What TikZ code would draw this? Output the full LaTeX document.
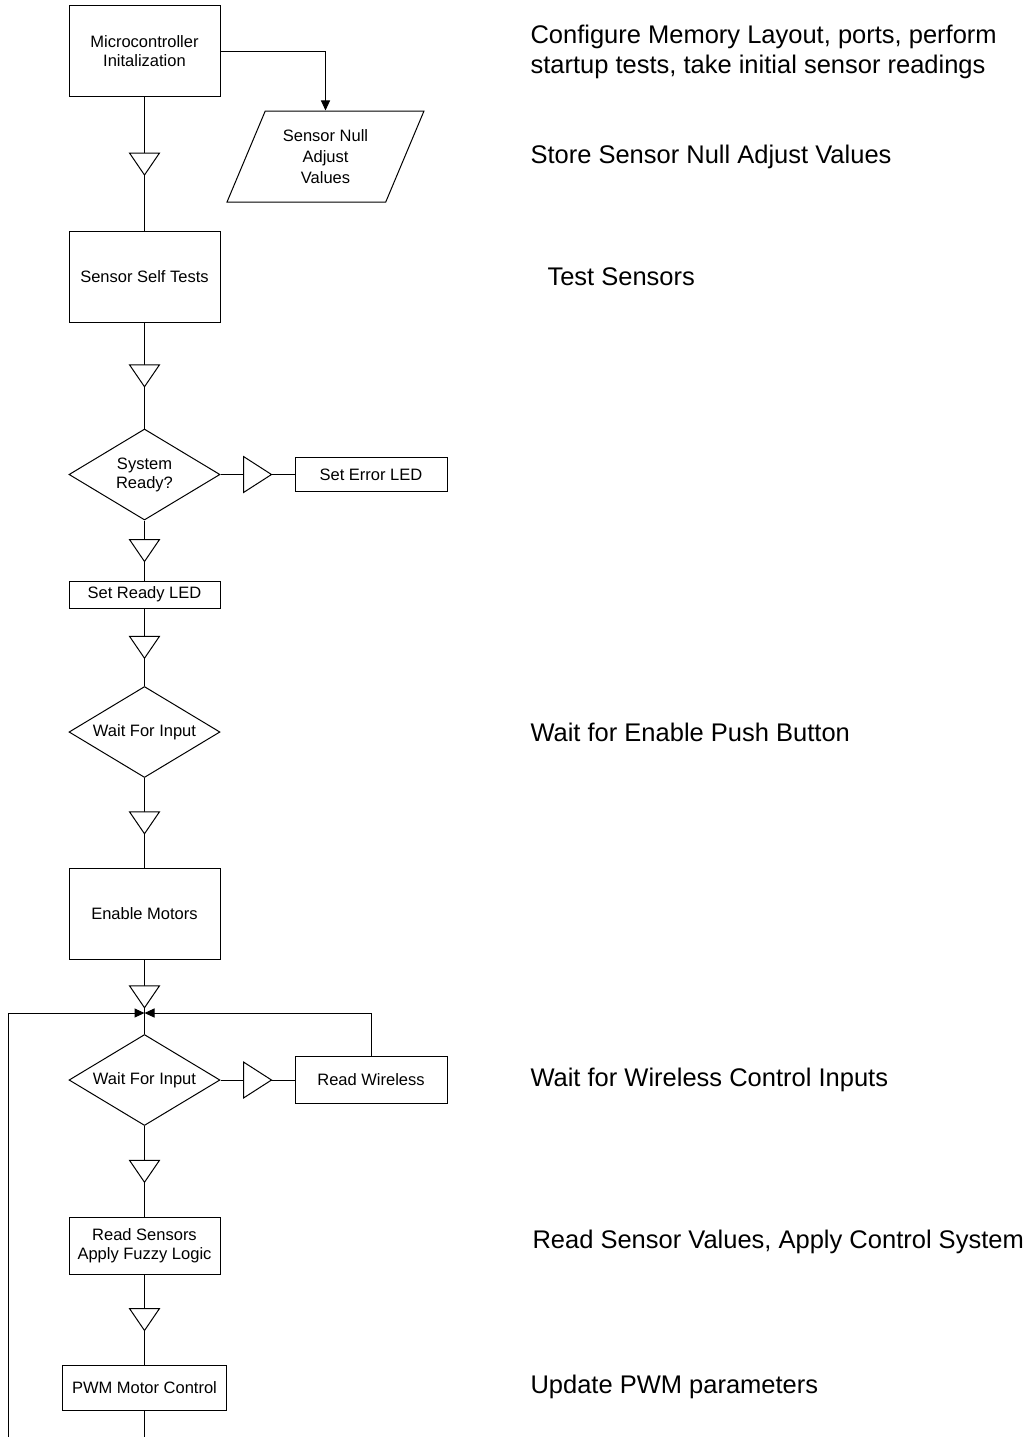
\documentclass[tikz,border=0pt]{standalone}
\usepackage{fontspec}
\setmainfont{Liberation Sans}
\usetikzlibrary{arrows.meta, shapes.geometric, decorations.markings}

\newcommand{\boxfont}{\fontsize{8.25}{9.5}\selectfont}
\newcommand{\notefont}{\fontsize{12.75}{15}\selectfont}

\tikzset{
  stepbox/.style={draw, rectangle, align=center, inner sep=1pt, minimum width=75.5pt},
  tallbox/.style={stepbox, minimum height=45.5pt},
  decision/.style={draw, diamond, align=center, inner sep=1pt, shape aspect=1.66,
    minimum width=75.5pt, minimum height=45.5pt},
  datanode/.style={draw, trapezium, trapezium left angle=63.7, trapezium right angle=116.3,
    trapezium stretches=true, align=center, inner sep=1pt,
    minimum width=98.5pt, minimum height=45.5pt},
  note/.style={anchor=west, align=left, inner sep=0pt, font=\notefont},
  tri/.style 2 args={postaction={decorate, decoration={markings,
    mark=at position 0.5 with {\draw[fill=white] (#1/2,0) -- (-#1/2,#2/2) -- (-#1/2,-#2/2) -- cycle;}}}},
  flowtri/.style={tri={22}{30}},
  sidetri/.style={tri={28}{36}}
}

\begin{document}
\begin{tikzpicture}[x=0.5pt, y=-0.5pt, >={Triangle[length=5pt,width=4.5pt]}, line width=0.5pt, font=\boxfont]
  \useasboundingbox (0,0) rectangle (1030,1437);

  % Start-up
  \node[tallbox] (init) at (144.5,51) {Microcontroller\\Initalization};
  \node[datanode, font=\fontsize{8.25}{10.3}\selectfont] (nullval) at (325.5,156.5) {Sensor Null\\Adjust\\Values};
  \node[tallbox] (selftest) at (144.5,277) {Sensor Self Tests};
  \node[decision] (ready) at (144.5,474.5) {System\\Ready?};
  \node[stepbox, minimum width=76pt, minimum height=17pt] (errled) at (371,474.5) {Set Error LED};
  \node[stepbox, minimum height=13.5pt] (readyled) at (144.5,594.5) {Set Ready LED};
  \node[decision] (waitbtn) at (144.5,732) {Wait For Input};
  \node[tallbox] (motors) at (144.5,913.5) {Enable Motors};

  % Main loop
  \coordinate (merge) at (144.5,1013);
  \node[decision] (waitrx) at (144.5,1080) {Wait For Input};
  \node[stepbox, minimum width=76pt, minimum height=23.5pt] (wireless) at (371,1080) {Read Wireless};
  \node[stepbox, minimum height=28.5pt] (fuzzy) at (144.5,1245.5) {Read Sensors\\Apply Fuzzy Logic};
  \node[stepbox, minimum width=82pt, minimum height=22.5pt] (pwm) at (144.5,1387.5) {PWM Motor Control};
  \coordinate (loopdown) at (144.5,1437);
  \coordinate (loopleft) at (8,1437);

  \draw[flowtri] (init) -- (selftest);
  \draw[->] (init.east) -| (nullval.north);
  \draw[flowtri] (selftest) -- (ready);
  \draw[sidetri] (ready) -- (errled);
  \draw[flowtri] (ready) -- (readyled);
  \draw[flowtri] (readyled) -- (waitbtn);
  \draw[flowtri] (waitbtn) -- (motors);
  \draw[flowtri] (motors) -- (waitrx);
  \draw[sidetri] (waitrx) -- (wireless);
  \draw[->] (wireless.north) |- (merge);
  \draw[->] (loopleft) |- (merge);
  \draw[flowtri] (waitrx) -- (fuzzy);
  \draw[flowtri] (fuzzy) -- (pwm);
  \draw (pwm) -- (loopdown);

  % Notes
  \node[note] (n-config) at (530,52) {Configure Memory Layout, ports, perform\\startup tests, take initial sensor readings};
  \node[note] (n-store) at (530,157) {Store Sensor Null Adjust Values};
  \node[note] (n-test) at (547,277) {Test Sensors};
  \node[note] (n-button) at (530,732) {Wait for Enable Push Button};
  \node[note] (n-wireless) at (530,1080) {Wait for Wireless Control Inputs};
  \node[note] (n-control) at (532,1242) {Read Sensor Values, Apply Control System};
  \node[note] (n-pwm) at (530,1387) {Update PWM parameters};
\end{tikzpicture}
\end{document}
